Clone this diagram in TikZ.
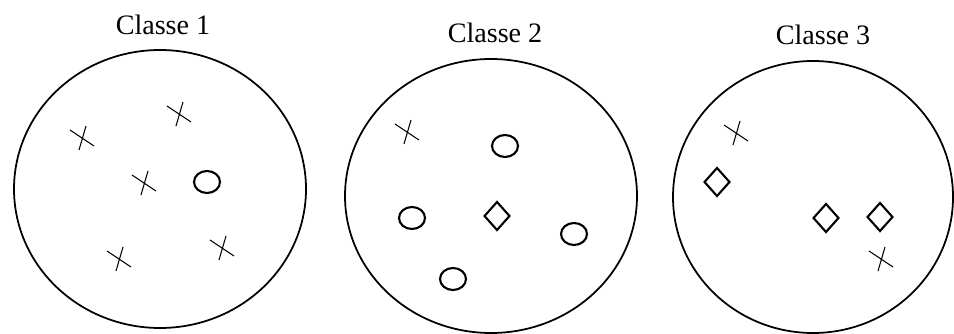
\documentclass[tikz,border=0pt]{standalone}
\usepackage{fontspec}
\setmainfont{Liberation Serif}
\usepackage{tikz}
\usetikzlibrary{positioning,calc}

\tikzset{
  classe/.style={line width=1pt},
  titre/.style={font=\fontsize{16}{18}\selectfont},
  marque/.style={line width=1.2pt},
  croix/.style={line width=0.6pt}
}

\begin{document}
\begin{tikzpicture}[x=0.2mm,y=0.2mm]
            \useasboundingbox (0,0) rectangle (954,334);
            % Classe 1
            \draw[classe] (160,145) ellipse (146 and 139);
            \node[titre] (t1) at (163,309) {Classe 1};
            \foreach \x/\y in {179/220, 82/196, 144/151, 119/75, 222/86}
                \draw[croix] (\x-12,\y+8) -- (\x+12,\y-8) (\x+4,\y+12) -- (\x-3,\y-12);
            \draw[marque] (207,152) ellipse (13 and 11);
            
            % Classe 2
            \draw[classe] (491,138) ellipse (146 and 137);
            \node[titre] (t2) at (495,301) {Classe 2};
            \foreach \x/\y in {407/202}
                \draw[croix] (\x-12,\y+8) -- (\x+12,\y-8) (\x+4,\y+12) -- (\x-3,\y-12);
            \foreach \x/\y in {505/188, 412/116, 574/100, 453/55}
                \draw[marque] (\x,\y) ellipse (13 and 11);
            \draw[marque] (497-12.5,118) -- (497,132) -- (497+12.5,118) -- (497,104) -- cycle;
            
            % Classe 3
            \draw[classe] (813,137) ellipse (140 and 136);
            \node[titre] (t3) at (823,299) {Classe 3};
            \foreach \x/\y in {736/201, 881/75}
                \draw[croix] (\x-12,\y+8) -- (\x+12,\y-8) (\x+4,\y+12) -- (\x-3,\y-12);
            \foreach \x/\y in {717/152, 826/116, 880/117}
                \draw[marque] (\x-12.5,\y) -- (\x,\y+14) -- (\x+12.5,\y) -- (\x,\y-14) -- cycle;
        \end{tikzpicture}
\end{document}
